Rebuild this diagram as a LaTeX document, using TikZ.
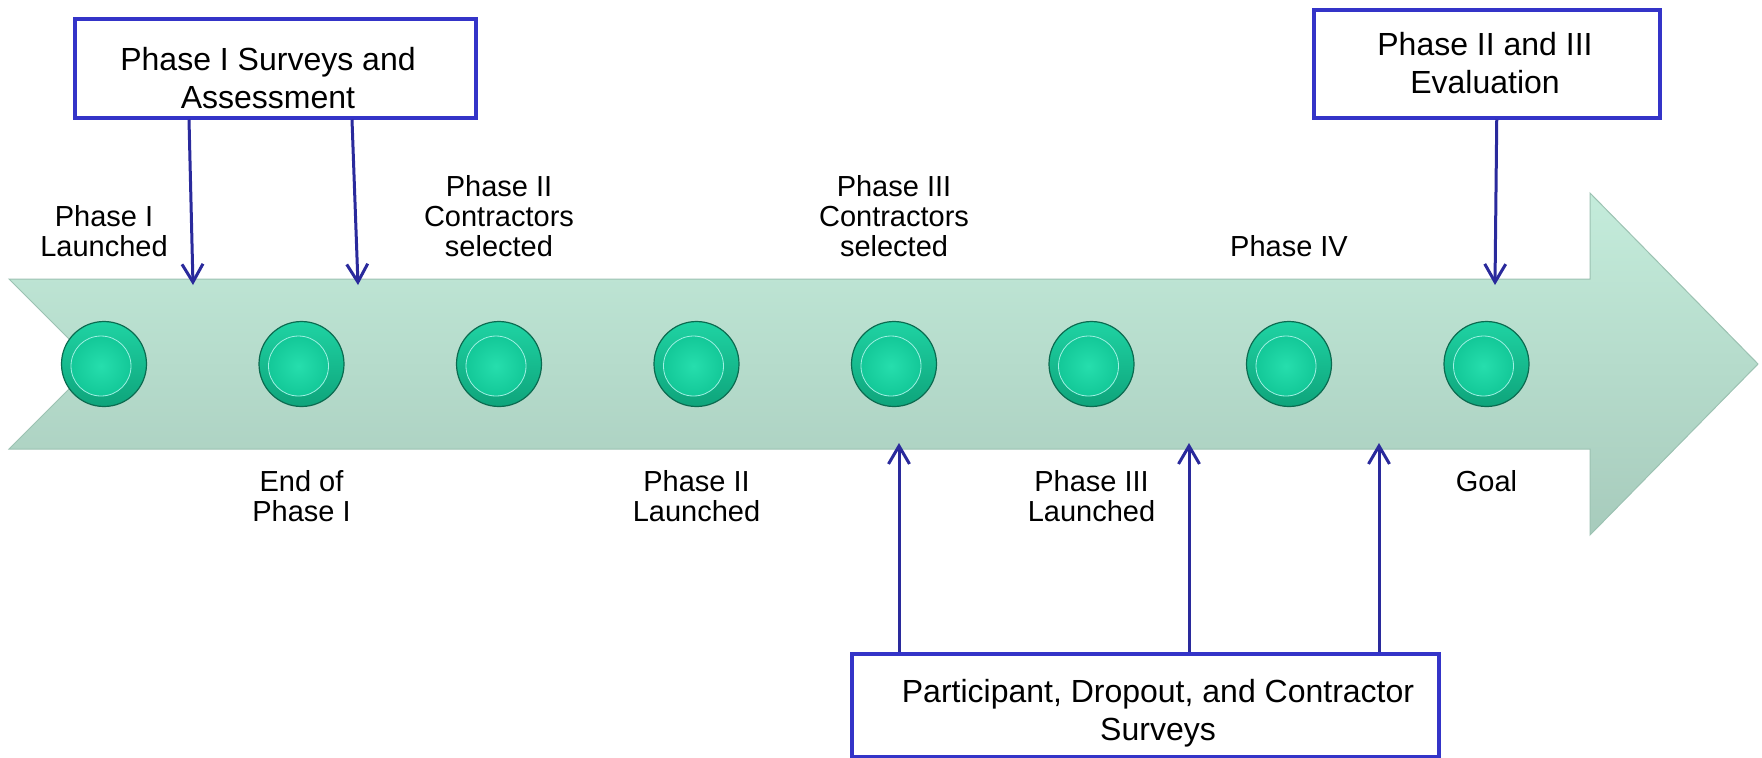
\documentclass[tikz,border=0pt]{standalone}
\usepackage{fontspec}
\setmainfont{Liberation Sans}
\usetikzlibrary{arrows.meta}

\definecolor{boxblue}{HTML}{3434C8}
\definecolor{linkblue}{HTML}{2A2A9C}
\definecolor{bodytop}{HTML}{C4ECDB}
\definecolor{bodybot}{HTML}{A7CBBC}
\definecolor{bodyrim}{HTML}{9CC2B2}
\definecolor{dottop}{HTML}{1FD3A3}
\definecolor{dotbot}{HTML}{0EA47B}
\definecolor{dotrim}{HTML}{0B6B50}
\definecolor{facein}{HTML}{26DEAD}
\definecolor{faceout}{HTML}{13C898}

\begin{document}
\begin{tikzpicture}[x=0.5pt, y=-0.5pt,
	box/.style = {draw=boxblue, line width=1.75pt, fill=white, inner sep=0pt, anchor=north west},
	boxtext/.style = {font=\fontsize{16}{19}\selectfont, align=center, inner sep=0pt, anchor=north},
	tag/.style = {font=\fontsize{14.5}{15}\selectfont, align=center, inner sep=0pt},
	dot/.style = {circle, minimum size=42.5pt, inner sep=0pt, draw=dotrim, line width=0.6pt, top color=dottop, bottom color=dotbot},
	face/.style = {inner color=facein, outer color=faceout, draw=faceout!70!cyan!40!white, line width=0.4pt},
	link/.style = {draw=linkblue, line width=1.5pt, -{Straight Barb[length=9pt,width=10.5pt]}}]
\useasboundingbox (0,0) rectangle (1762,757);

\shade[top color=bodytop, bottom color=bodybot, draw=bodyrim, line width=0.5pt]
	(9,279) -- (1590,279) -- (1590,193) -- (1758,364) -- (1590,535)
	-- (1590,449) -- (9,449) -- (94,364) -- cycle;

\foreach \i in {1,...,8} {
	\node[dot] (c\i) at ({104+197.5*(\i-1)},364) {};
	\shade[face] ([shift={(-1.5pt,-1pt)}]c\i.center) circle (15pt);
}

\node[tag, anchor=south] (l1) at (c1 |- 0,257) {Phase I\\Launched};
\node[tag, anchor=south] (l3) at (c3 |- 0,257) {Phase II\\Contractors\\selected};
\node[tag, anchor=south] (l5) at (c5 |- 0,257) {Phase III\\Contractors\\selected};
\node[tag, anchor=south] (l7) at (c7 |- 0,257) {Phase IV};
\node[tag, anchor=north] (l2) at (c2 |- 0,470) {End of\\Phase I};
\node[tag, anchor=north] (l4) at (c4 |- 0,470) {Phase II\\Launched};
\node[tag, anchor=north] (l6) at (c6 |- 0,470) {Phase III\\Launched};
\node[tag, anchor=north] (l8) at (c8 |- 0,470) {Goal};

\node[box, minimum width=200.5pt, minimum height=49.5pt] (sv) at (73,17) {};
\node[boxtext] (svt) at (268,47) {Phase I Surveys and\\Assessment};
\node[box, minimum width=173pt, minimum height=54pt] (ev) at (1312,8) {};
\node[boxtext] (evt) at (1485,32) {Phase II and III\\Evaluation};
\node[box, minimum width=293.5pt, minimum height=51.5pt] (pd) at (850,652) {};
\node[boxtext] (pdt) at (1158,679) {Participant, Dropout, and Contractor\\Surveys};

\coordinate (a1) at (193,285);
\coordinate (a2) at (358,285);
\coordinate (a3) at (1495,285);
\coordinate (b1) at (899,443);
\coordinate (b2) at (1189,443);
\coordinate (b3) at (1379,443);

\draw[link] ([xshift=58pt]sv.south west) -- (a1);
\draw[link] ([xshift=139.5pt]sv.south west) -- (a2);
\draw[link] ([xshift=5pt]ev.south) -- (a3);
\draw[link] ([xshift=24.5pt]pd.north west) -- (b1);
\draw[link] ([xshift=169.5pt]pd.north west) -- (b2);
\draw[link] ([xshift=264.5pt]pd.north west) -- (b3);
\end{tikzpicture}
\end{document}
